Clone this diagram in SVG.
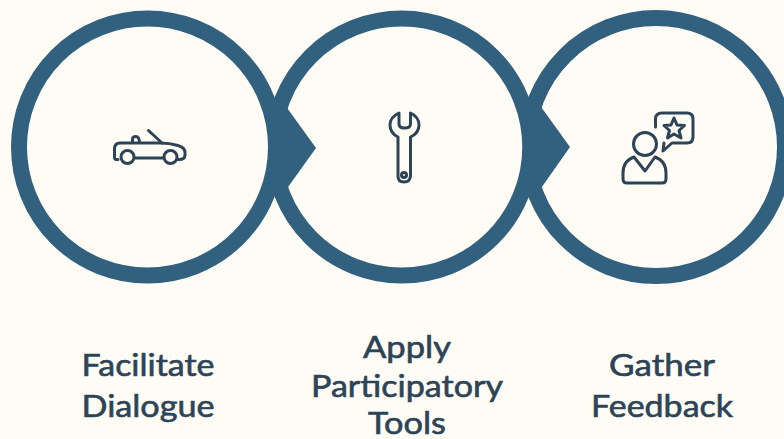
<svg xmlns="http://www.w3.org/2000/svg" width="784" height="439" viewBox="0 0 784 439">
<style>
.ring{fill:#fffcf6;stroke:#32607f;stroke-width:16}
.tri{fill:#32607f}
.ic{fill:none;stroke:#2c4456;stroke-width:3;stroke-linecap:round;stroke-linejoin:round}
.lb{font-family:"Lato","Noto Sans",sans-serif;font-weight:400;font-size:30px;fill:#2c4456;stroke:#2c4456;stroke-width:.6;text-anchor:middle}
</style>
<rect width="784" height="439" fill="#fffcf6"/>
<g id="node-3">
<circle class="ring" cx="656" cy="147" r="129"/>
<g id="icon-feedback" class="ic">
<circle cx="645" cy="144" r="11.500"/>
<path d="M634 157Q623 161 623 173V179Q623 183 627 183H662Q666 183 666 179V173Q666 161 655 157L645 171Z"/>
<path d="M655.500 127V119Q655.500 113 662 113H687Q693 113 693 119V137Q693 143 687 143H672L663 151L664 143"/>
<path d="M674 118L677 125L684.500 125.500L679 130.500L681 138L674 134L667.500 138L669.500 130.500L664 125.500L671 125Z"/>
</g>
<text class="lb" x="662" y="376" textLength="106" lengthAdjust="spacingAndGlyphs">Gather</text>
<text class="lb" x="662" y="417" textLength="142" lengthAdjust="spacingAndGlyphs">Feedback</text>
</g>
<g id="node-2">
<circle class="ring" cx="401.750" cy="147" r="128.500"/>
<g id="icon-wrench" class="ic">
<path d="M399 113Q390 117 390 125Q390 133 398 137V176Q398 182 404 182Q410 182 410.500 176V137Q419 133 419 125Q419 117 410.500 113V124Q410.500 128 404.500 128Q399 128 399 124Z"/>
<circle cx="404" cy="175" r="2.500"/>
</g>
<text class="lb" x="407" y="358" textLength="88" lengthAdjust="spacingAndGlyphs">Apply</text>
<text class="lb" x="407" y="397" textLength="192" lengthAdjust="spacingAndGlyphs">Participatory</text>
<text class="lb" x="407" y="434" textLength="78" lengthAdjust="spacingAndGlyphs">Tools</text>
</g>
<g id="node-1">
<circle class="ring" cx="147.500" cy="147" r="128.500"/>
<g id="icon-car" class="ic">
<path d="M118 159.500H116.500Q114.500 159.500 114.500 157V149Q114.500 143 120 143H160Q170 143 178 145.500Q185 147.500 185 152.500V155Q185 159.500 179 159.500H177"/>
<path d="M135.500 158H163"/>
<circle cx="127.500" cy="157" r="6.500"/>
<circle cx="170.500" cy="157" r="6.500"/>
<path d="M148.500 130.500L162 143"/>
<path d="M132.500 142V139Q132.500 136.500 136 136.500Q139 136.500 139.500 142"/>
</g>
<text class="lb" x="148" y="376" textLength="133" lengthAdjust="spacingAndGlyphs">Facilitate</text>
<text class="lb" x="148" y="417" textLength="133" lengthAdjust="spacingAndGlyphs">Dialogue</text>
</g>
<g id="connectors">
<polygon class="tri" points="277,94 316,148 278,201 272,147"/>
<polygon class="tri" points="531,93 570,147 532,201 526,147"/>
</g>
</svg>
